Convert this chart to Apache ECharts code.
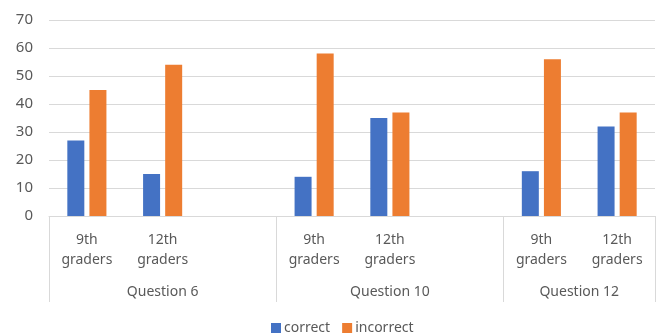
<!DOCTYPE html>
<html>
<head>
<meta charset="utf-8">
<script src="https://cdn.jsdelivr.net/npm/echarts@6/dist/echarts.min.js"></script>
<style>
  html, body { margin: 0; padding: 0; background: #fff; }
  #chart { width: 656px; height: 333px; }
</style>
</head>
<body>
<div id="chart"></div>
<script>
// Bar slots along the x axis; empty strings are spacer slots between question groups
const categories = ['9th\ngraders', '12th\ngraders', '', '9th\ngraders', '12th\ngraders', '', '9th\ngraders', '12th\ngraders'];
const correct   = [27, 15, null, 14, 35, null, 16, 32];
const incorrect = [45, 54, null, 58, 37, null, 56, 37];

// Question groups and how many slots each spans
const groupNames = ['Question 6', 'Question 10', 'Question 12'];
const groupSlots = [3, 3, 2];

const yTicks = [0, 10, 20, 30, 40, 50, 60, 70];

// Group boundaries and label centres in slot units
const boundaries = [0];
const centres = [];
groupSlots.forEach(n => {
  const start = boundaries[boundaries.length - 1];
  centres.push(start + n / 2);
  boundaries.push(start + n);
});

const textColor = '#595959';
const lineColor = '#d9d9d9';
const font = 'Noto Sans';

const chart = echarts.init(document.getElementById('chart'));
chart.setOption({
  animation: false,
  textStyle: { fontFamily: font },
  grid: { left: 49, right: 1, top: 20, bottom: 117, containLabel: false },
  legend: {
    left: 266, top: 316,
    itemWidth: 10, itemHeight: 10, itemGap: 12,
    icon: 'rect',
    textStyle: { color: textColor, fontSize: 14, fontFamily: font, padding: [0, 0, 0, -2] },
    data: ['correct', 'incorrect']
  },
  xAxis: [
    {
      type: 'category',
      data: categories,
      axisLine: { lineStyle: { color: lineColor, width: 1 } },
      axisTick: { show: false },
      axisLabel: { color: textColor, fontSize: 14, lineHeight: 20, margin: 14, interval: 0, fontFamily: font }
    },
    {
      type: 'value',
      position: 'bottom',
      min: 0,
      max: boundaries[boundaries.length - 1],
      axisLine: { show: false },
      splitLine: { show: false },
      axisTick: {
        show: true, inside: false, length: 86,
        customValues: boundaries,
        lineStyle: { color: lineColor, width: 1 }
      },
      axisLabel: {
        color: textColor, fontSize: 14, margin: 69, fontFamily: font,
        customValues: centres,
        formatter: v => {
          const i = centres.indexOf(v);
          return i >= 0 ? groupNames[i] : '';
        }
      }
    }
  ],
  yAxis: {
    type: 'value',
    min: yTicks[0], max: yTicks[yTicks.length - 1], interval: 10,
    axisLine: { show: false },
    axisTick: { show: false },
    splitLine: { lineStyle: { color: lineColor, width: 1 } },
    axisLabel: { color: textColor, fontSize: 15, margin: 16, fontFamily: font }
  },
  series: [
    {
      name: 'correct', type: 'bar', data: correct, xAxisIndex: 0,
      barWidth: 17, barGap: '30%',
      itemStyle: { color: '#4472C4' }
    },
    {
      name: 'incorrect', type: 'bar', data: incorrect, xAxisIndex: 0,
      barWidth: 17, barGap: '30%',
      itemStyle: { color: '#ED7D31' }
    }
  ]
});
</script>
</body>
</html>
